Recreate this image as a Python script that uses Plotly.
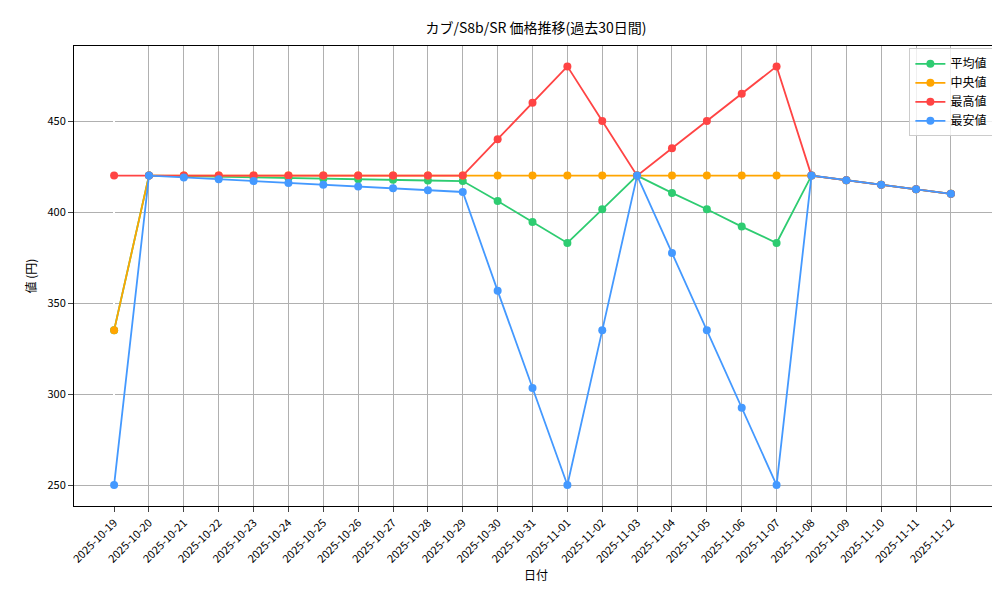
import plotly.graph_objects as go

dates = ["2025-10-19","2025-10-20","2025-10-21","2025-10-22","2025-10-23","2025-10-24","2025-10-25",
         "2025-10-26","2025-10-27","2025-10-28","2025-10-29","2025-10-30","2025-10-31","2025-11-01",
         "2025-11-02","2025-11-03","2025-11-04","2025-11-05","2025-11-06","2025-11-07","2025-11-08",
         "2025-11-09","2025-11-10","2025-11-11","2025-11-12"]
avg_vals = [335,420,419.7,419.3,419,418.7,418.3,418,417.7,417.3,417,406,394.5,383,401.5,420,410.5,401.5,392,383,420,417.5,415,412.5,410]
med_vals = [335,420,420,420,420,420,420,420,420,420,420,420,420,420,420,420,420,420,420,420,420,417.5,415,412.5,410]
max_vals = [420,420,420,420,420,420,420,420,420,420,420,440,460,480,450,420,435,450,465,480,420,417.5,415,412.5,410]
min_vals = [250,420,419,418,417,416,415,414,413,412,411,356.7,303.3,250,335,420,377.5,335,292.5,250,420,417.5,415,412.5,410]

series = [("平均値", avg_vals, "#2ecc71"), ("中央値", med_vals, "#ffa500"),
          ("最高値", max_vals, "#ff4444"), ("最安値", min_vals, "#4499ff")]

fig = go.Figure()
for name, vals, col in series:
    fig.add_trace(go.Scatter(x=list(range(len(dates))), y=vals, name=name, mode="lines+markers",
                             line=dict(color=col, width=1.8), marker=dict(size=8, color=col)))

fig.update_layout(
    width=1000, height=600, plot_bgcolor="white", paper_bgcolor="white",
    font=dict(family="Noto Sans CJK JP", size=12, color="black"),
    title=dict(text="カブ/S8b/SR 価格推移(過去30日間)", x=0.528, xanchor="center", y=0.975, font=dict(size=14)),
    margin=dict(l=66, r=10, t=38, b=102, autoexpand=False),
    legend=dict(x=0.995, y=0.995, xanchor="right", yanchor="top", bordercolor="#cccccc", borderwidth=1,
                bgcolor="rgba(255,255,255,0.8)", font=dict(size=12)),
    xaxis=dict(tickmode="array", tickvals=list(range(len(dates))), ticktext=dates, tickangle=-45,
               range=[-1.15, 25.35], showgrid=True, gridcolor="#b0b0b0", showline=True, linecolor="black",
               mirror=True, ticks="outside", automargin=False, tickfont=dict(size=11),
               title=dict(text="日付", standoff=4, font=dict(size=12))),
    yaxis=dict(range=[238.5, 491.2], tickvals=[250,300,350,400,450], showgrid=True, gridcolor="#b0b0b0",
               showline=True, linecolor="black", mirror=True, ticks="outside", zeroline=False,
               automargin=False, tickfont=dict(size=11),
               title=dict(text="値 (円)", standoff=8, font=dict(size=12))),
)
fig.write_html("out.html")
